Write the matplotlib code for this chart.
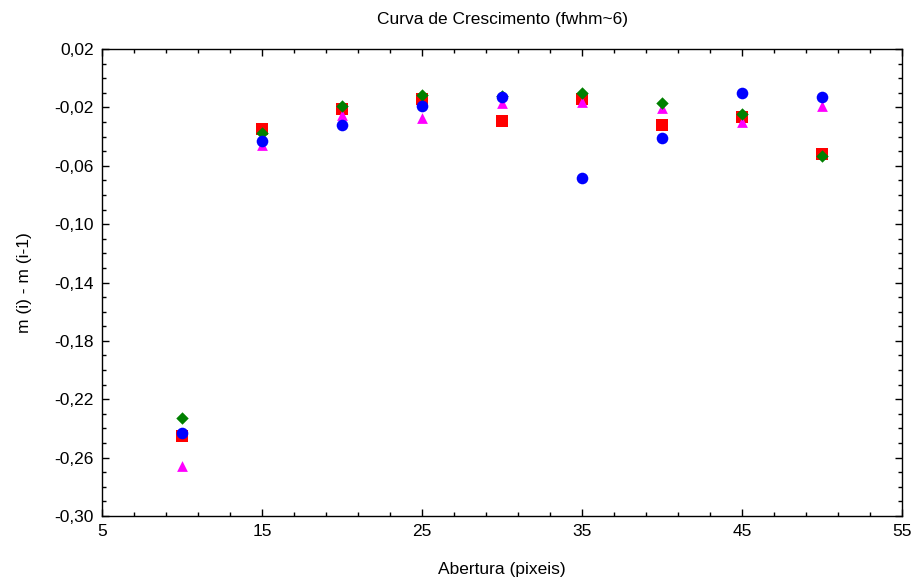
import matplotlib
matplotlib.use("Agg")
import matplotlib.pyplot as plt
import numpy as np

plt.rcParams["font.family"] = ["Liberation Sans", "DejaVu Sans"]

apertura = [10, 15, 20, 25, 30, 35, 40, 45, 50]
serie_vermelha = [-0.2455, -0.0348, -0.0211, -0.0142, -0.0293, -0.0140, -0.0321, -0.0264, -0.0521]
serie_magenta = [-0.2660, -0.0460, -0.0252, -0.0275, -0.0172, -0.0160, -0.0206, -0.0298, -0.0193]
serie_verde = [-0.2327, -0.0373, -0.0193, -0.0115, -0.0122, -0.0099, -0.0172, -0.0247, -0.0531]
serie_azul = [-0.2430, -0.0432, -0.0323, -0.0188, -0.0131, -0.0685, -0.0407, -0.0104, -0.0131]

x_ticks = [5, 15, 25, 35, 45, 55]
y_ticks = [0.02, -0.02, -0.06, -0.10, -0.14, -0.18, -0.22, -0.26, -0.30]

fig = plt.figure(figsize=(9.14, 5.84), dpi=100)
ax = fig.add_axes([0.1116, 0.1164, 0.8753, 0.7997])

ax.scatter(apertura, serie_vermelha, marker="s", s=64, color="#ff0000", linewidths=0, zorder=3)
ax.scatter(apertura, serie_magenta, marker="^", s=60, color="#ff00ff", linewidths=0, zorder=4)
ax.scatter(apertura, serie_verde, marker="D", s=40, color="#008000", linewidths=0, zorder=5)
ax.scatter(apertura, serie_azul, marker="o", s=70, color="#0000ff", linewidths=0, zorder=6)

ax.set_xlim(5, 55)
ax.set_ylim(-0.30, 0.02)
ax.set_xticks(x_ticks)
ax.set_xticks(np.arange(5, 56, 2), minor=True)
ax.set_yticks(y_ticks)
ax.set_yticklabels([f"{v:.2f}".replace(".", ",") for v in y_ticks])
ax.set_yticks(np.arange(-0.30, 0.0201, 0.01), minor=True)

ax.tick_params(which="both", direction="in", top=True, right=True, labelsize=12.5, colors="black")
ax.tick_params(which="major", length=5, width=1, pad=6)
ax.tick_params(which="minor", length=3, width=1)
for sp in ax.spines.values():
    sp.set_linewidth(1.0)

ax.set_title("Curva de Crescimento (fwhm~6)", fontsize=12.5, pad=18)
ax.set_xlabel("Abertura (pixeis)", fontsize=12.5, labelpad=16)
ax.set_ylabel("m (i) - m (i-1)", fontsize=12.5, labelpad=16)

fig.savefig("out.png", dpi=100)
